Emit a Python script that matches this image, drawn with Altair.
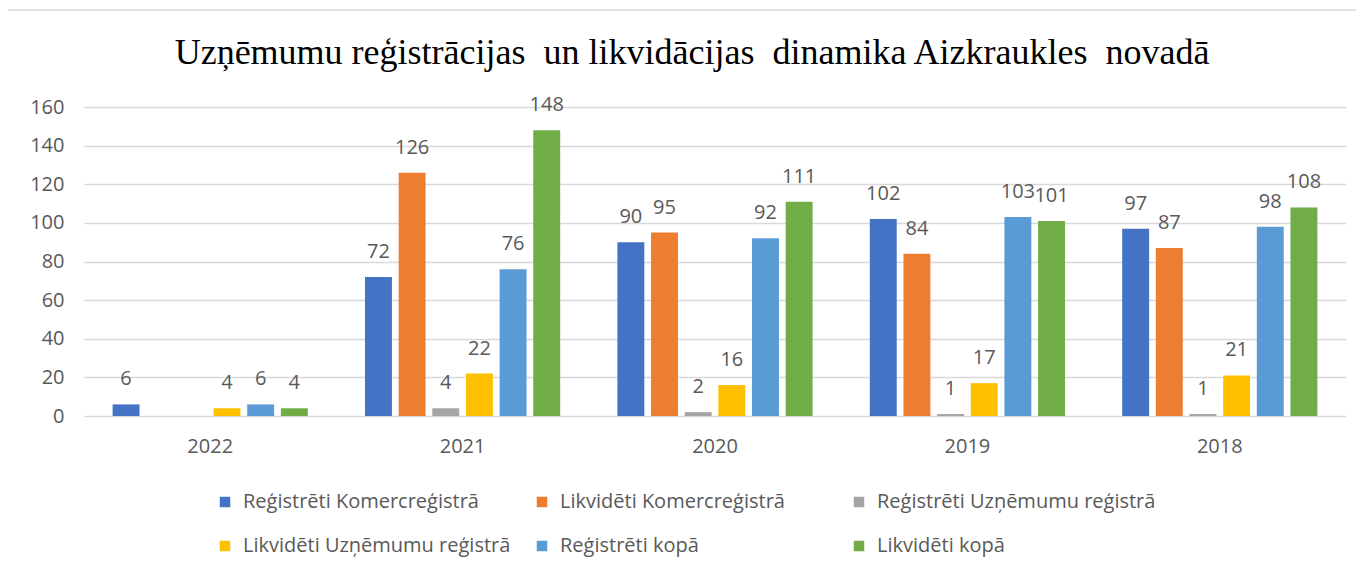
import altair as alt
import pandas as pd

years = ["2022", "2021", "2020", "2019", "2018"]
series = [
    "Reģistrēti Komercreģistrā",
    "Likvidēti Komercreģistrā",
    "Reģistrēti Uzņēmumu reģistrā",
    "Likvidēti Uzņēmumu reģistrā",
    "Reģistrēti kopā",
    "Likvidēti kopā",
]
colors = ["#4472C4", "#ED7D31", "#A5A5A5", "#FFC000", "#5B9BD5", "#70AD47"]

reg_komerc = [6, 72, 90, 102, 97]
likv_komerc = [None, 126, 95, 84, 87]
reg_ur = [None, 4, 2, 1, 1]
likv_ur = [4, 22, 16, 17, 21]
reg_kopa = [6, 76, 92, 103, 98]
likv_kopa = [4, 148, 111, 101, 108]

title = "Uzņēmumu reģistrācijas\u00a0 un likvidācijas\u00a0 dinamika Aizkraukles\u00a0 novadā"

rows = []
for s, vals in zip(series, [reg_komerc, likv_komerc, reg_ur, likv_ur, reg_kopa, likv_kopa]):
    for y, v in zip(years, vals):
        if v is not None:
            rows.append({"Gads": y, "Sērija": s, "Vērtība": v})
df = pd.DataFrame(rows)

FONT = "Open Sans"
GRAY = "#595959"
W, H = 1262, 309

x = alt.X("Gads:N", sort=years, title=None,
          scale=alt.Scale(paddingInner=0.2, paddingOuter=0.1),
          axis=alt.Axis(labelAngle=0, labelPadding=20, ticks=False, domain=False,
                        labelFont=FONT, labelFontSize=20, labelColor=GRAY, grid=False))
xo = alt.XOffset("Sērija:N", sort=series,
                 scale=alt.Scale(domain=series, paddingInner=0.2, paddingOuter=0.1))
y = alt.Y("Vērtība:Q", title=None,
          scale=alt.Scale(domain=[0, 160], nice=False),
          axis=alt.Axis(values=list(range(0, 161, 20)), ticks=False, domain=False,
                        labelPadding=20, labelFont=FONT, labelFontSize=20, labelColor=GRAY,
                        grid=True, gridColor="#D9D9D9", gridWidth=1.5))

bars = alt.Chart(df).mark_bar().encode(
    x=x, xOffset=xo, y=y,
    color=alt.Color("Sērija:N", sort=series,
                    scale=alt.Scale(domain=series, range=colors),
                    legend=alt.Legend(title=None, orient="none", legendX=131, legendY=385,
                                      direction="horizontal",
                                      columns=3, gridAlign="all", columnPadding=10,
                                      rowPadding=24, symbolType="square", symbolSize=110,
                                      symbolStrokeWidth=0, labelFont=FONT, labelFontSize=20,
                                      labelColor=GRAY, labelOffset=8, labelLimit=400)),
)

labels = alt.Chart(df).mark_text(dy=-25, baseline="middle", font=FONT, fontSize=20,
                                 color=GRAY).encode(
    x=x, xOffset=xo, y=y, text="Vērtība:Q",
)

border = alt.Chart(alt.Data(values=[{}])).mark_rect(
    fill=None, stroke="#D9D9D9", strokeWidth=1.5
).encode(x=alt.value(-77), x2=alt.value(W + 40), y=alt.value(-97), y2=alt.value(H + 200))

chart = alt.layer(border, bars, labels).properties(
    width=W, height=H,
    autosize=alt.AutoSizeParams(type="none"),
    padding={"left": 76, "top": 99, "right": 10, "bottom": 158},
    title=alt.TitleParams(title, font="Liberation Serif", fontSize=36, fontWeight="normal",
                          color="#000000", anchor="middle", dx=-23, offset=-91,
                          frame="group", baseline="alphabetic"),
).configure_view(stroke=None)

chart.save("out.html", embed_options={"renderer": "svg", "actions": False})
